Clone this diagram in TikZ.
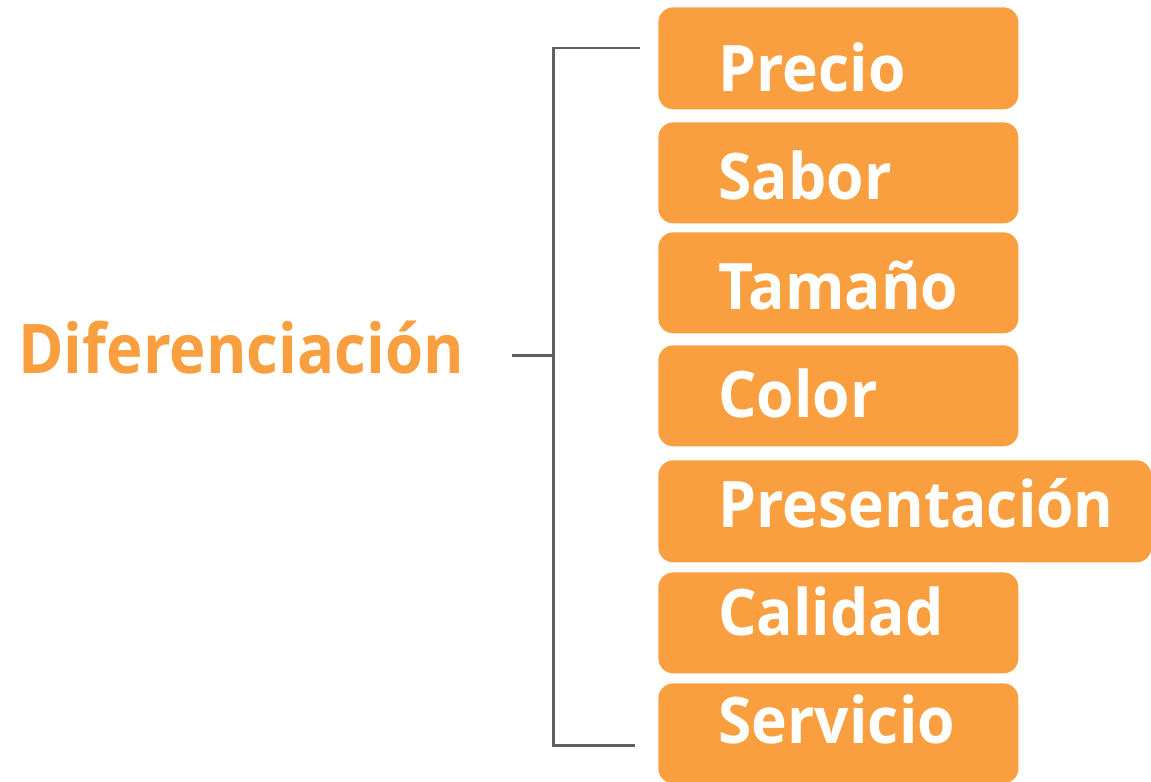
\documentclass[tikz,border=0pt]{standalone}
\usepackage{fontspec}
\setmainfont{Open Sans}
\usetikzlibrary{positioning}
\definecolor{naranja}{HTML}{F99F40}
\definecolor{gris}{HTML}{606060}
\newcommand{\angosto}[2]{\scalebox{#1}[1]{#2}}

\begin{document}
\begin{tikzpicture}[x=0.02cm, y=-0.02cm, font=\bfseries]
\tikzset{caja/.style={fill=naranja, rounded corners=0.3cm, inner sep=0pt, anchor=north west},
  etiqueta/.style={text=white, font=\fontsize{36.5}{40}\selectfont\bfseries, anchor=base west, inner sep=0pt},
  llave/.style={draw=gris, line width=1.7pt}}
\useasboundingbox (0,0) rectangle (1151,781);
% titulo a la izquierda
\node[text=naranja, font=\fontsize{39}{44}\selectfont\bfseries, anchor=base west, inner sep=0pt] (dif) at (18,373) {\angosto{0.9}{Diferenciación}};
% cajas de la derecha (tope, alto, ancho, linea base del texto)
\foreach \i/\t/\h/\w/\b/\txt in {1/7/102/360/91/Precio, 2/122/101/360/199/Sabor, 3/232/101/360/309/Tamaño,
  4/345/101/360/417/Color, 5/460/102/493/527/Presentación, 6/572/101/360/635/Calidad, 7/683/100/360/743/Servicio} {
  \node[caja, minimum width=\w*0.02cm, minimum height=\h*0.02cm] (b\i) at (658,\t) {};
  \node[etiqueta] (l\i) at (718,\b) {\angosto{0.944}{\txt}};
}
% llave
\coordinate (lt) at (640,48);
\coordinate (lb) at (635,745);
\coordinate (lm) at (512,355);
\draw[llave] (lt) -- (553,48) -- (553,745) -- (lb);
\draw[llave] (lm) -- (553,355);
\end{tikzpicture}
\end{document}
